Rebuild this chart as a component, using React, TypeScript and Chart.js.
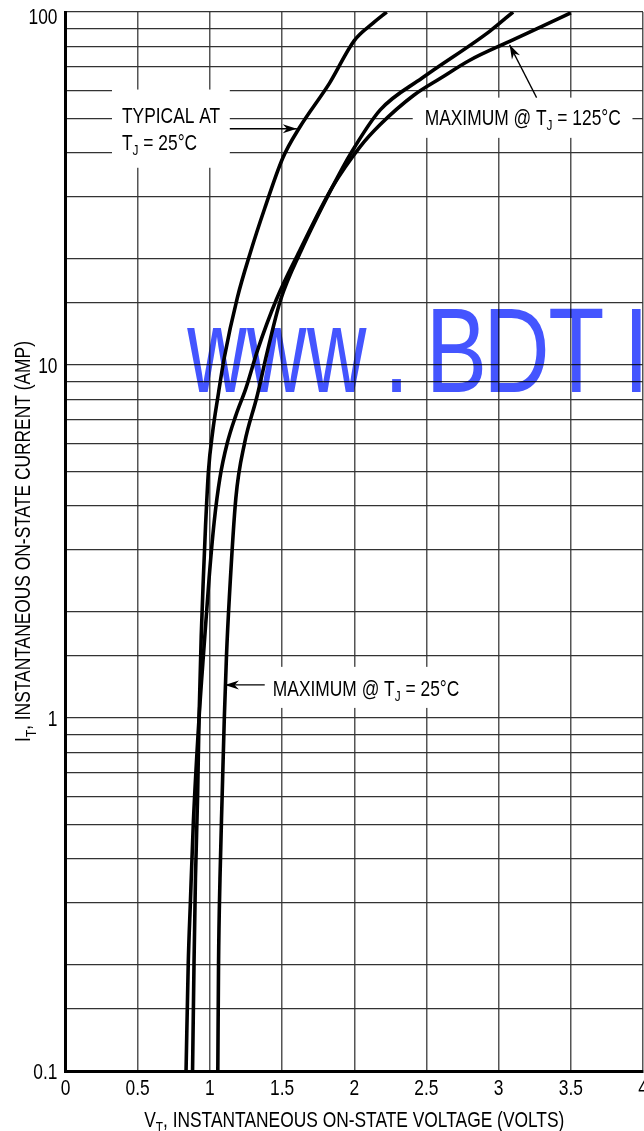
import React, { useEffect, useRef } from 'react';
import { Chart, registerables } from 'chart.js';

Chart.register(...registerables);

const FONT = '"Liberation Sans", Arial, Helvetica, sans-serif';
const FONT_SIZE = 22;
const SX = 0.79; // horizontal condensing of the Helvetica-like face

// ---- axes ----
const xTicks = [0, 0.5, 1, 1.5, 2, 2.5, 3, 3.5, 4];
const xTickLabels = ['0', '0.5', '1', '1.5', '2', '2.5', '3', '3.5', '4'];
const yGridValues = [
  0.1, 0.15, 0.2, 0.3, 0.4, 0.5, 0.6, 0.7, 0.8, 0.9,
  1, 1.5, 2, 3, 4, 5, 6, 7, 8, 9,
  10, 15, 20, 30, 40, 50, 60, 70, 80, 90, 100,
];
const yLabelValues = [0.1, 1, 10, 100];
const yLabelTexts = ['0.1', '1', '10', '100'];

// ---- series (V volts, I amps) ----
const typicalV = [0.88, 0.89, 0.9, 0.915, 0.925, 0.94, 0.955, 0.97, 0.99, 1.02, 1.055, 1.1, 1.19, 1.28, 1.38, 1.505, 1.62, 1.83, 2.0, 2.13, 2.225];
const typicalI = [0.1, 0.2, 0.35, 0.6, 1, 1.7, 2.5, 3.5, 5, 6.5, 8.1, 10.5, 15.5, 20.8, 27.8, 38.6, 47, 63, 83, 93, 100];

const max125V = [0.835, 0.85, 0.865, 0.885, 0.925, 0.96, 0.995, 1.03, 1.07, 1.12, 1.18, 1.25, 1.33, 1.46, 1.62, 1.85, 2.04, 2.18, 2.41, 2.6, 2.8, 3.08, 3.3, 3.5];
const max125I = [0.1, 0.2, 0.3, 0.5, 1, 1.6, 2.5, 3.6, 4.8, 6, 7.2, 8.6, 11, 15.3, 21, 32, 41.5, 48, 58, 65, 73, 82.7, 91, 99.5];

const max25V = [1.055, 1.06, 1.07, 1.085, 1.1, 1.115, 1.135, 1.18, 1.24, 1.325, 1.4, 1.49, 1.63, 1.85, 1.98, 2.18, 2.47, 2.94, 3.1];
const max25I = [0.1, 0.2, 0.35, 0.6, 1, 1.5, 2.2, 4.2, 6, 8.1, 11, 15.3, 21, 32, 40, 52.8, 65, 88.3, 100];

// ---- annotations (data coordinates) ----
type Part = [string, boolean];
const typLine1: Part[] = [['TYPICAL AT', false]];
const typLine2: Part[] = [['T', false], ['J', true], [' = 25°C', false]];
const max125Text: Part[] = [['MAXIMUM @ T', false], ['J', true], [' = 125°C', false]];
const max25Text: Part[] = [['MAXIMUM @ T', false], ['J', true], [' = 25°C', false]];
const xTitle: Part[] = [['V', false], ['T', true], [', INSTANTANEOUS ON-STATE VOLTAGE (VOLTS)', false]];
const yTitle: Part[] = [['I', false], ['T', true], [', INSTANTANEOUS ON-STATE CURRENT (AMP)', false]];

// label boxes: [vLeft, vRight, iBottom, iTop]
const boxes = [
  [0.322, 1.138, 36.2, 60.3],
  [2.405, 3.927, 44.0, 57.2],
  [1.401, 2.799, 1.068, 1.396],
];
// text anchors: [vLeft, iCenter]
const typLine1Pos = [0.391, 51.2];
const typLine2Pos = [0.391, 42.9];
const max125Pos = [2.488, 50.5];
const max25Pos = [1.436, 1.217];
// arrows: [vFrom, iFrom, vTo, iTo]
const arrows = [
  [1.138, 46.7, 1.602, 46.7],
  [3.263, 57.2, 3.076, 80.7],
  [1.38, 1.241, 1.104, 1.241],
];
const watermarkText = 'www.BDTI';
const watermarkPos = [0.841, 8.4]; // left edge / baseline

function toPoints(v: number[], i: number[]) {
  return v.map((x, k) => ({ x, y: i[k] }));
}

function richWidth(ctx: CanvasRenderingContext2D, parts: Part[], size: number) {
  let w = 0;
  for (const [t, s] of parts) {
    ctx.font = `${s ? Math.round(size * 0.68) : size}px ${FONT}`;
    w += ctx.measureText(t).width;
  }
  return w * SX;
}

function drawRich(ctx: CanvasRenderingContext2D, parts: Part[], x: number, yCenter: number, size: number, align: 'left' | 'center' | 'right') {
  const w = richWidth(ctx, parts, size);
  const startX = align === 'center' ? x - w / 2 : align === 'right' ? x - w : x;
  const base = yCenter + size * 0.358;
  ctx.save();
  ctx.translate(startX, base);
  ctx.scale(SX, 1);
  ctx.textAlign = 'left';
  ctx.textBaseline = 'alphabetic';
  let cx = 0;
  for (const [t, s] of parts) {
    ctx.font = `${s ? Math.round(size * 0.68) : size}px ${FONT}`;
    ctx.fillText(t, cx, s ? size * 0.24 : 0);
    cx += ctx.measureText(t).width;
  }
  ctx.restore();
}

function drawArrow(ctx: CanvasRenderingContext2D, x1: number, y1: number, x2: number, y2: number) {
  ctx.beginPath();
  ctx.moveTo(x1, y1);
  ctx.lineTo(x2, y2);
  ctx.lineWidth = 1.3;
  ctx.strokeStyle = '#000';
  ctx.stroke();
  const a = Math.atan2(y2 - y1, x2 - x1);
  const L = 14;
  const W = 4.5;
  const bx = x2 - L * Math.cos(a);
  const by = y2 - L * Math.sin(a);
  ctx.beginPath();
  ctx.moveTo(x2, y2);
  ctx.lineTo(bx + W * Math.sin(a), by - W * Math.cos(a));
  ctx.lineTo(x2 - L * 0.7 * Math.cos(a), y2 - L * 0.7 * Math.sin(a));
  ctx.lineTo(bx - W * Math.sin(a), by + W * Math.cos(a));
  ctx.closePath();
  ctx.fillStyle = '#000';
  ctx.fill();
}

const overlayPlugin = {
  id: 'overlay',
  beforeDatasetsDraw(chart: any) {
    const { ctx } = chart;
    const xs = chart.scales.x;
    const ys = chart.scales.y;
    ctx.save();
    ctx.fillStyle = '#fff';
    for (const [v0, v1, i0, i1] of boxes) {
      const x1 = xs.getPixelForValue(v0);
      const x2 = xs.getPixelForValue(v1);
      const y1 = ys.getPixelForValue(i1);
      const y2 = ys.getPixelForValue(i0);
      ctx.fillRect(x1, y1, x2 - x1, y2 - y1);
    }
    ctx.restore();
  },
  afterDatasetsDraw(chart: any) {
    const { ctx } = chart;
    const xs = chart.scales.x;
    const ys = chart.scales.y;
    const px = (v: number) => xs.getPixelForValue(v);
    const py = (i: number) => ys.getPixelForValue(i);
    ctx.save();
    ctx.fillStyle = '#000';
    drawRich(ctx, typLine1, px(typLine1Pos[0]), py(typLine1Pos[1]), FONT_SIZE, 'left');
    drawRich(ctx, typLine2, px(typLine2Pos[0]), py(typLine2Pos[1]), FONT_SIZE, 'left');
    drawRich(ctx, max125Text, px(max125Pos[0]), py(max125Pos[1]), FONT_SIZE, 'left');
    drawRich(ctx, max25Text, px(max25Pos[0]), py(max25Pos[1]), FONT_SIZE, 'left');
    for (const [v0, i0, v1, i1] of arrows) {
      drawArrow(ctx, px(v0), py(i0), px(v1), py(i1));
    }
    ctx.restore();
  },
  afterDraw(chart: any) {
    const { ctx, chartArea } = chart;
    const xs = chart.scales.x;
    const ys = chart.scales.y;
    ctx.save();
    ctx.fillStyle = '#000';
    // tick labels, placed by the scales
    xs.ticks.forEach((t: any, k: number) => {
      drawRich(ctx, [[xTickLabels[k], false]], xs.getPixelForValue(t.value), chartArea.bottom + 16, FONT_SIZE, 'center');
    });
    yLabelValues.forEach((v, k) => {
      drawRich(ctx, [[yLabelTexts[k], false]], chartArea.left - 8, ys.getPixelForValue(v) + (k === yLabelValues.length - 1 ? 4 : 0), FONT_SIZE, 'right');
    });
    // x title
    drawRich(ctx, xTitle, (chartArea.left + chartArea.right) / 2, 1119, FONT_SIZE, 'center');
    // y title
    ctx.save();
    ctx.translate(22.5, (chartArea.top + chartArea.bottom) / 2);
    ctx.rotate(-Math.PI / 2);
    drawRich(ctx, yTitle, 0, 0, FONT_SIZE, 'center');
    ctx.restore();
    // watermark, one character per fixed-pitch cell
    ctx.save();
    ctx.globalCompositeOperation = 'multiply';
    ctx.fillStyle = 'rgb(68, 85, 255)';
    const wx = xs.getPixelForValue(watermarkPos[0]);
    const wy = ys.getPixelForValue(watermarkPos[1]);
    const pitch = 59.9;
    ctx.font = `121px ${FONT}`;
    ctx.textAlign = 'center';
    ctx.textBaseline = 'alphabetic';
    Array.from(watermarkText).forEach((ch, k) => {
      ctx.save();
      ctx.translate(wx + (k + 0.5) * pitch, wy);
      ctx.scale(ch === 'w' ? 0.68 : 0.76, 1);
      ctx.fillText(ch, 0, 0);
      ctx.restore();
    });
    ctx.restore();
    ctx.restore();
  },
};

export default function App() {
  const ref = useRef<HTMLCanvasElement>(null);
  useEffect(() => {
    if (!ref.current) return;
    const lineStyle = {
      borderColor: '#000',
      borderWidth: 3.6,
      pointRadius: 0,
      fill: false,
      cubicInterpolationMode: 'monotone' as const,
    };
    const chart = new Chart(ref.current, {
      type: 'line',
      data: {
        datasets: [
          { label: 'Typical @ 25°C', data: toPoints(typicalV, typicalI), ...lineStyle },
          { label: 'Maximum @ 125°C', data: toPoints(max125V, max125I), ...lineStyle },
          { label: 'Maximum @ 25°C', data: toPoints(max25V, max25I), ...lineStyle },
        ],
      },
      options: {
        animation: false,
        responsive: false,
        devicePixelRatio: 1,
        layout: { padding: { top: 12, right: 1, left: 0, bottom: 0 } },
        plugins: { legend: { display: false }, tooltip: { enabled: false } },
        scales: {
          x: {
            type: 'linear',
            min: 0,
            max: 4,
            afterBuildTicks: (s: any) => {
              s.ticks = xTicks.map((value) => ({ value }));
            },
            afterFit: (s: any) => {
              s.height = 60;
              s.paddingLeft = 0;
              s.paddingRight = 0;
            },
            ticks: { display: false, autoSkip: false },
            grid: { color: '#555', lineWidth: 1.5, drawTicks: false },
            border: { display: true, color: '#000', width: 3 },
          },
          y: {
            type: 'logarithmic',
            min: 0.1,
            max: 100,
            afterBuildTicks: (s: any) => {
              s.ticks = yGridValues.map((value) => ({ value }));
            },
            afterFit: (s: any) => {
              s.width = 65.5;
              s.paddingTop = 0;
              s.paddingBottom = 0;
            },
            ticks: { display: false, autoSkip: false },
            grid: { color: '#333', lineWidth: 1.2, drawTicks: false },
            border: { display: true, color: '#000', width: 3 },
          },
        },
      },
      plugins: [overlayPlugin],
    } as any);
    return () => chart.destroy();
  }, []);
  return (
    <div style={{ position: 'absolute', left: 0, top: 0, width: 644, height: 1131, overflow: 'hidden', background: '#fff' }}>
      <canvas ref={ref} width={644} height={1131} style={{ display: 'block', width: 644, height: 1131 }} />
    </div>
  );
}
